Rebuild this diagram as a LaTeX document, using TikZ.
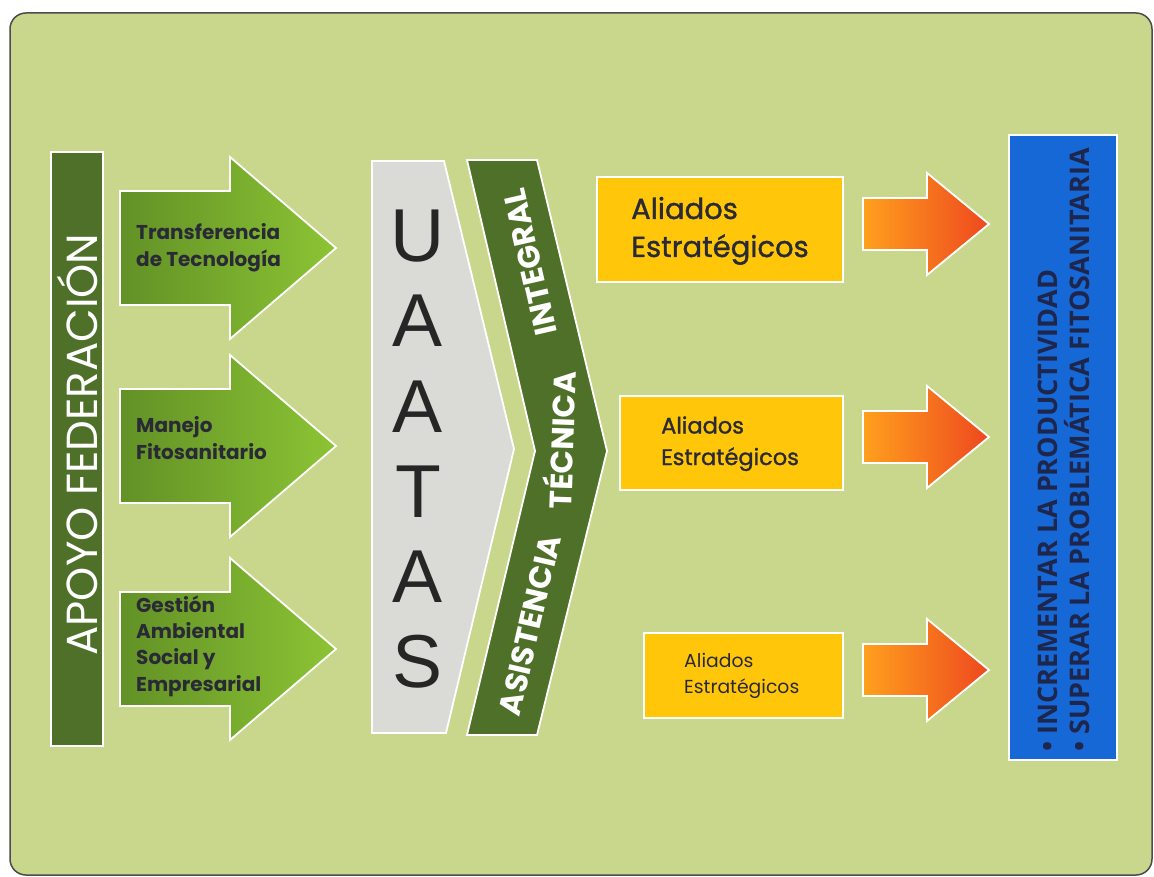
\documentclass[tikz,border=0pt]{standalone}
\usepackage{fontspec}
\newfontfamily\popfont{Poppins}
\newfontfamily\popmed{Poppins}[FakeBold=1.2]
\newfontfamily\helvfont{Liberation Sans}
\newfontfamily\opensfont{Open Sans}
\definecolor{bgg}{RGB}{200,215,140}
\definecolor{darkg}{RGB}{78,112,40}
\definecolor{greyfill}{RGB}{218,218,214}
\definecolor{gold}{RGB}{255,198,10}
\definecolor{bluebar}{RGB}{22,104,214}
\definecolor{navy}{RGB}{30,38,75}
\definecolor{ink}{RGB}{42,42,55}
\definecolor{garrowL}{RGB}{98,145,38}
\definecolor{garrowR}{RGB}{140,196,52}
\definecolor{oarrowL}{RGB}{255,160,30}
\definecolor{oarrowR}{RGB}{238,72,30}
\begin{document}
\begin{tikzpicture}[x=1pt,y=-1pt,
  wb/.style={draw=white,line width=1.8pt,line join=miter},
  lbl/.style={inner sep=0pt,anchor=base west},
  gtxt/.style={lbl,text=ink,font=\popfont\bfseries\fontsize{20}{22}\selectfont},
  atxt/.style={lbl,text=ink},
  ctxt/.style={inner sep=0pt,text=white,font=\popfont\bfseries\fontsize{31}{31}\selectfont},
  uletter/.style={inner sep=0pt,anchor=base,text=black!85,font=\helvfont\fontsize{75}{75}\selectfont},
  btxt/.style={rotate=90,anchor=base west,inner sep=0pt,text=navy,font=\opensfont\bfseries\fontsize{27}{27}\selectfont}]
\useasboundingbox (0,0) rectangle (1154,877);
\fill[white] (0,0) rectangle (1154,877);
\draw[fill=bgg,draw=black!70,line width=1.5pt,rounded corners=16pt] (10,13) rectangle (1152,875);

% APOYO FEDERACION bar
\draw[wb,fill=darkg] (51,152) rectangle (103,746);
\node[rotate=90,anchor=base,inner sep=0pt,text=white,font=\popfont\fontsize{43.5}{43.5}\selectfont] (apoyo) at (97,444.5) {APOYO FEDERACIÓN};

% green arrows
\foreach \c in {248,446,649}{
  \draw[wb,left color=garrowL,right color=garrowR]
    (120,{\c-57}) -- (230,{\c-57}) -- (230,{\c-91}) -- (336,\c) -- (230,{\c+91}) -- (230,{\c+57}) -- (120,{\c+57}) -- cycle;
}
\node[gtxt] (t1a) at (136,240) {Transferencia};
\node[gtxt] (t1b) at (136,267) {de Tecnología};
\node[gtxt] (t2a) at (136,432) {Manejo};
\node[gtxt] (t2b) at (136,459) {Fitosanitario};
\node[gtxt] (t3a) at (136,612) {Gestión};
\node[gtxt] (t3b) at (136,638) {Ambiental};
\node[gtxt] (t3c) at (136,664) {Social y};
\node[gtxt] (t3d) at (136,691) {Empresarial};

% UAATAS
\draw[wb,fill=greyfill] (372,161) -- (444,161) -- (514,449) -- (446,733) -- (372,733) -- cycle;
\node[uletter] (u1) at (418,262) {U};
\node[uletter] (u2) at (418,347) {A};
\node[uletter] (u3) at (418,432) {A};
\node[uletter] (u4) at (418,517) {T};
\node[uletter] (u5) at (418,602) {A};
\node[uletter] (u6) at (418,687) {S};

% chevron
\draw[wb,fill=darkg] (467,160) -- (537,160) -- (607,451) -- (537,735) -- (467,735) -- (535,451) -- cycle;
\node[ctxt,rotate=77] (asis) at (530,625) {ASISTENCIA};
\node[ctxt,rotate=88] (tec) at (559,440) {TÉCNICA};
\node[ctxt,rotate=103] (integ) at (530,262) {INTEGRAL};

% Aliados boxes
\draw[wb,fill=gold] (597,177) rectangle (843,282);
\node[atxt,font=\popmed\fontsize{29}{29}\selectfont] (a1a) at (631,219) {Aliados};
\node[atxt,font=\popmed\fontsize{29}{29}\selectfont] (a1b) at (631,257) {Estratégicos};
\draw[wb,fill=gold] (620,396) rectangle (843,490);
\node[atxt,font=\popmed\fontsize{22.5}{22.5}\selectfont] (a2a) at (661,433.5) {Aliados};
\node[atxt,font=\popmed\fontsize{22.5}{22.5}\selectfont] (a2b) at (661,465) {Estratégicos};
\draw[wb,fill=gold] (644,633) rectangle (843,718);
\node[atxt,font=\popfont\fontsize{18.8}{18.8}\selectfont] (a3a) at (684,667) {Aliados};
\node[atxt,font=\popfont\fontsize{18.8}{18.8}\selectfont] (a3b) at (684,693) {Estratégicos};

% orange arrows
\foreach \c in {224,437,670}{
  \draw[wb,left color=oarrowL,right color=oarrowR]
    (863,{\c-26}) -- (927,{\c-26}) -- (927,{\c-51}) -- (989,\c) -- (927,{\c+51}) -- (927,{\c+26}) -- (863,{\c+26}) -- cycle;
}

% blue bar
\draw[wb,fill=bluebar] (1009,135) rectangle (1117,760);
\node[btxt] (b1) at (1057,752) {• INCREMENTAR LA PRODUCTIVIDAD};
\node[btxt] (b2) at (1089,752) {• SUPERAR LA PROBLEMÁTICA FITOSANITARIA};
\end{tikzpicture}
\end{document}
